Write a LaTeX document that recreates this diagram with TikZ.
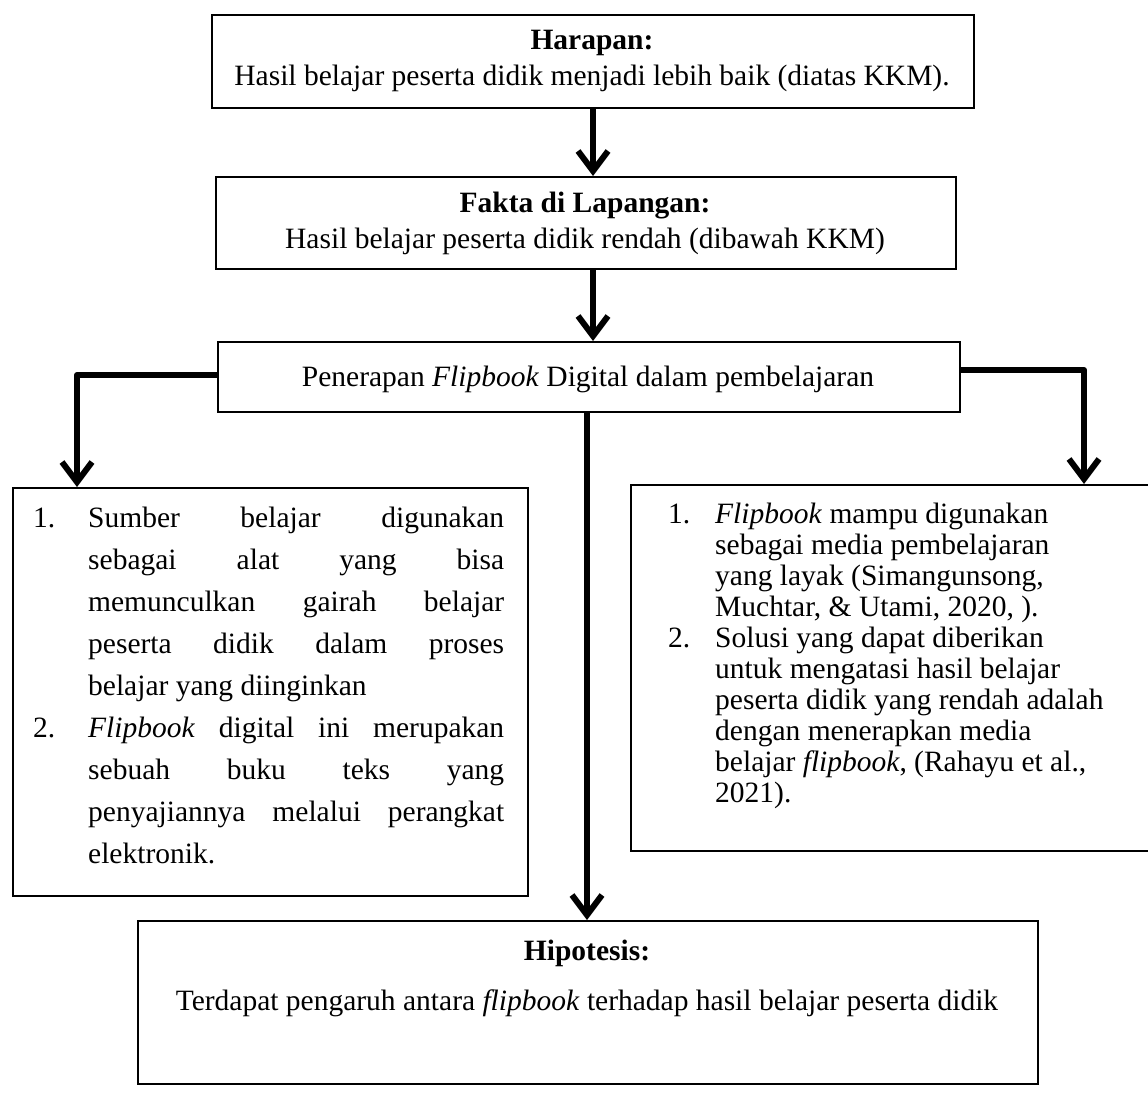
\documentclass[tikz,border=0pt]{standalone}
\usepackage{fontspec}
\setmainfont{Liberation Serif}
\usetikzlibrary{arrows.meta}
\tikzset{
  box/.style={draw, line width=2pt, inner sep=0pt, anchor=north west},
  txt/.style={inner sep=0pt, anchor=base},
  conn/.style={line width=6pt, line join=round,
    -{Straight Barb[length=20pt,width=30pt,line width=6pt]}},
}
\newcommand{\lnum}[2]{\makebox[#1][l]{#2}}
\begin{document}
\begin{tikzpicture}[x=1pt,y=-1pt,font=\fontsize{29.5}{36}\selectfont]
\clip (0,0) rectangle (1148,1093);
\fill[white] (0,0) rectangle (1148,1093);
% boxes
\node[box, minimum width=762pt, minimum height=93pt] (b1) at (211,14) {};
\node[box, minimum width=740pt, minimum height=92pt] (b2) at (215,176) {};
\node[box, minimum width=742pt, minimum height=70pt] (b3) at (217,341) {};
\node[box, minimum width=515pt, minimum height=408pt] (b4) at (12,487) {};
\node[box, minimum width=600pt, minimum height=366pt] (b5) at (630,484) {};
\node[box, minimum width=900pt, minimum height=163pt] (b6) at (137,920) {};
% texts
\node[txt] (t1a) at (592,49) {\textbf{Harapan:}};
\node[txt] (t1b) at (592,85) {Hasil belajar peserta didik menjadi lebih baik (diatas KKM).};
\node[txt] (t2a) at (585,212) {\textbf{Fakta di Lapangan:}};
\node[txt] (t2b) at (585,248) {Hasil belajar peserta didik rendah (dibawah KKM)};
\node[txt] (t3) at (588,386) {Penerapan \textit{Flipbook} Digital dalam pembelajaran};
\node[txt, anchor=base west] (t4) at (33,527) {\parbox[t]{480pt}{\fontsize{29.5}{42}\selectfont
\lnum{55pt}{1.}\makebox[416pt][s]{Sumber belajar digunakan}\\
\hspace*{55pt}\makebox[416pt][s]{sebagai alat yang bisa}\\
\hspace*{55pt}\makebox[416pt][s]{memunculkan gairah belajar}\\
\hspace*{55pt}\makebox[416pt][s]{peserta didik dalam proses}\\
\hspace*{55pt}belajar yang diinginkan\\
\lnum{55pt}{2.}\makebox[416pt][s]{\textit{Flipbook} digital ini merupakan}\\
\hspace*{55pt}\makebox[416pt][s]{sebuah buku teks yang}\\
\hspace*{55pt}\makebox[416pt][s]{penyajiannya melalui perangkat}\\
\hspace*{55pt}elektronik.}};
\node[txt, anchor=base west] (t5) at (668,523) {\parbox[t]{480pt}{\fontsize{29.5}{31}\selectfont
\lnum{47pt}{1.}\textit{Flipbook} mampu digunakan\\
\hspace*{47pt}sebagai media pembelajaran\\
\hspace*{47pt}yang layak (Simangunsong,\\
\hspace*{47pt}Muchtar, \& Utami, 2020, ).\\
\lnum{47pt}{2.}Solusi yang dapat diberikan\\
\hspace*{47pt}untuk mengatasi hasil belajar\\
\hspace*{47pt}peserta didik yang rendah adalah\\
\hspace*{47pt}dengan menerapkan media\\
\hspace*{47pt}belajar \textit{flipbook}, (Rahayu et al.,\\
\hspace*{47pt}2021).}};
\node[txt] (t6a) at (587,960) {\textbf{Hipotesis:}};
\node[txt] (t6b) at (587,1010) {Terdapat pengaruh antara \textit{flipbook} terhadap hasil belajar peserta didik};
% connectors
\coordinate (ax) at (593,0);
\coordinate (cx) at (587,0);
\coordinate (lx) at (77,0);
\coordinate (rx) at (1084,0);
\draw[conn] (ax |- b1.south) -- (ax |- b2.north);
\draw[conn] (ax |- b2.south) -- (ax |- b3.north);
\draw[conn] ([yshift=2pt]b3.west) -| (lx |- b4.north);
\draw[conn] ([yshift=7pt]b3.east) -| (rx |- b5.north);
\draw[conn] (cx |- b3.south) -- (cx |- b6.north);
\end{tikzpicture}
\end{document}
